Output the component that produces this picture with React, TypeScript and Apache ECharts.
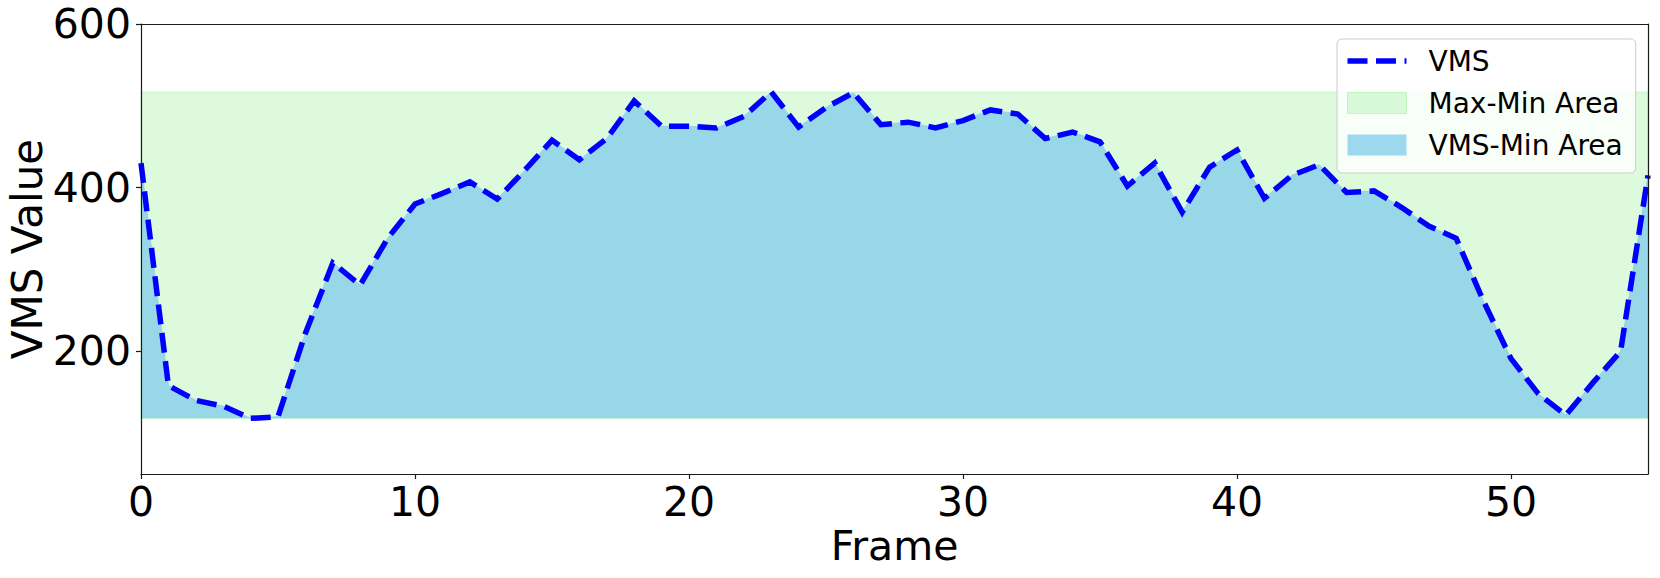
import React, { useEffect, useRef } from 'react';
import * as echarts from 'echarts';

// ---- data ----
const frames: number[] = [
  0, 1, 2, 3, 4, 5, 6, 7, 8, 9, 10, 11, 12, 13, 14, 15, 16, 17, 18, 19,
  20, 21, 22, 23, 24, 25, 26, 27, 28, 29, 30, 31, 32, 33, 34, 35, 36, 37, 38, 39,
  40, 41, 42, 43, 44, 45, 46, 47, 48, 49, 50, 51, 52, 53, 54, 55,
];
const vmsValues: number[] = [
  430, 158, 140, 133, 118, 120, 222, 308, 281, 338, 380, 393, 407, 386, 421, 458, 434, 460, 506, 475,
  475, 473, 487, 517, 474, 498, 516, 477, 480, 473, 482, 495, 490, 460, 468, 456, 402, 430, 370, 425,
  446, 387, 415, 428, 394, 396, 376, 353, 338, 261, 191, 148, 122, 162, 200, 415,
];
const xTickValues: number[] = [0, 10, 20, 30, 40, 50];
const yTickValues: number[] = [200, 400, 600];
const seriesNames: string[] = ['VMS', 'Max-Min Area', 'VMS-Min Area'];
const xAxisTitle = 'Frame';
const yAxisTitle = 'VMS Value';

const FONT = 'DejaVu Sans';
const AXIS_COLOR = '#1a1a1a';

export default function App() {
  const ref = useRef<HTMLDivElement>(null);

  useEffect(() => {
    if (!ref.current) return;
    const chart = echarts.init(ref.current, undefined, { renderer: 'svg' });
    const vmsData = frames.map((f, i) => [f, vmsValues[i]]);
    const vMin = Math.min(...vmsValues);
    const vMax = Math.max(...vmsValues);

    const hiddenAxisCommon = {
      type: 'value' as const,
      z: 10,
      axisTick: { show: false },
      axisLabel: { show: false },
      splitLine: { show: false },
    };

    const option: any = {
      animation: false,
      grid: { left: 141, right: 12, top: 24, bottom: 104, containLabel: false, outerBoundsMode: 'none' },
      xAxis: [
        {
          type: 'value',
          min: 0,
          max: 55,
          z: 10,
          name: xAxisTitle,
          nameLocation: 'middle',
          nameGap: 51,
          nameMoveOverlap: false,
          nameTextStyle: { fontFamily: FONT, fontSize: 41, color: '#000' },
          axisLine: { show: true, onZero: false, lineStyle: { color: AXIS_COLOR, width: 1.2 } },
          axisTick: { show: true, length: 5, customValues: xTickValues, lineStyle: { color: AXIS_COLOR, width: 1.2 } },
          axisLabel: { customValues: xTickValues, fontFamily: FONT, fontSize: 41, color: '#000', margin: 7 },
          splitLine: { show: false },
        },
        {
          ...hiddenAxisCommon,
          position: 'top',
          min: 0,
          max: 55,
          axisLine: { show: true, onZero: false, lineStyle: { color: AXIS_COLOR, width: 1.2 } },
        },
      ],
      yAxis: [
        {
          type: 'value',
          min: 50,
          max: 600,
          z: 10,
          name: yAxisTitle,
          nameLocation: 'middle',
          nameRotate: 90,
          nameGap: 93,
          nameMoveOverlap: false,
          nameTextStyle: { fontFamily: FONT, fontSize: 42, color: '#000' },
          axisLine: { show: true, onZero: false, lineStyle: { color: AXIS_COLOR, width: 1.2 } },
          axisTick: { show: true, length: 5, customValues: yTickValues, lineStyle: { color: AXIS_COLOR, width: 1.2 } },
          axisLabel: { customValues: yTickValues, fontFamily: FONT, fontSize: 41, color: '#000', margin: 10 },
          splitLine: { show: false },
        },
        {
          ...hiddenAxisCommon,
          position: 'right',
          min: 50,
          max: 600,
          axisLine: { show: true, onZero: false, lineStyle: { color: AXIS_COLOR, width: 1.2 } },
        },
      ],
      legend: {
        left: 1337,
        top: 39,
        orient: 'vertical',
        align: 'left',
        itemWidth: 59,
        itemHeight: 21,
        itemGap: 14,
        padding: [8, 13, 14, 10],
        backgroundColor: 'rgba(255,255,255,0.8)',
        borderColor: '#cccccc',
        borderWidth: 1,
        borderRadius: 5,
        textStyle: { fontFamily: FONT, fontSize: 28, color: '#000', padding: [0, 0, 0, 17] },
        data: [
          {
            name: seriesNames[0],
            icon: 'path://M0,0H20V5.5H0Z M28.5,0H48.5V5.5H28.5Z M57,0H59V5.5H57Z',
            itemStyle: { color: '#0000ff', borderWidth: 0 },
          },
          {
            name: seriesNames[1],
            icon: 'rect',
            itemStyle: { color: 'rgba(144,238,144,0.3)', borderColor: 'rgba(144,238,144,0.45)', borderWidth: 1 },
          },
          {
            name: seriesNames[2],
            icon: 'rect',
            itemStyle: { color: 'rgba(135,206,235,0.8)', borderWidth: 0 },
          },
        ],
      },
      series: [
        {
          name: seriesNames[1],
          type: 'line',
          data: [],
          symbol: 'none',
          itemStyle: { color: 'rgba(144,238,144,0.3)' },
          markArea: {
            silent: true,
            itemStyle: { color: 'rgba(144,238,144,0.3)', borderColor: 'rgba(144,238,144,0.4)', borderWidth: 1 },
            data: [[{ yAxis: vMax }, { yAxis: vMin }]],
          },
        },
        {
          name: seriesNames[2],
          type: 'line',
          data: vmsData,
          symbol: 'none',
          z: 2,
          itemStyle: { color: 'rgba(135,206,235,0.8)' },
          lineStyle: { color: 'rgba(135,206,235,0.8)', width: 1 },
          areaStyle: { color: 'rgba(135,206,235,0.8)', origin: vMin, opacity: 1 },
        },
        {
          name: seriesNames[0],
          type: 'line',
          data: vmsData,
          symbol: 'none',
          z: 3,
          itemStyle: { color: '#0000ff' },
          lineStyle: { color: '#0000ff', width: 5.5, type: [20, 8.5], cap: 'butt', join: 'miter' },
        },
      ],
    };
    chart.setOption(option);
    return () => chart.dispose();
  }, []);

  return (
    <div
      ref={ref}
      style={{ position: 'absolute', left: 0, top: 0, width: 1660, height: 578, background: '#fff' }}
    />
  );
}
